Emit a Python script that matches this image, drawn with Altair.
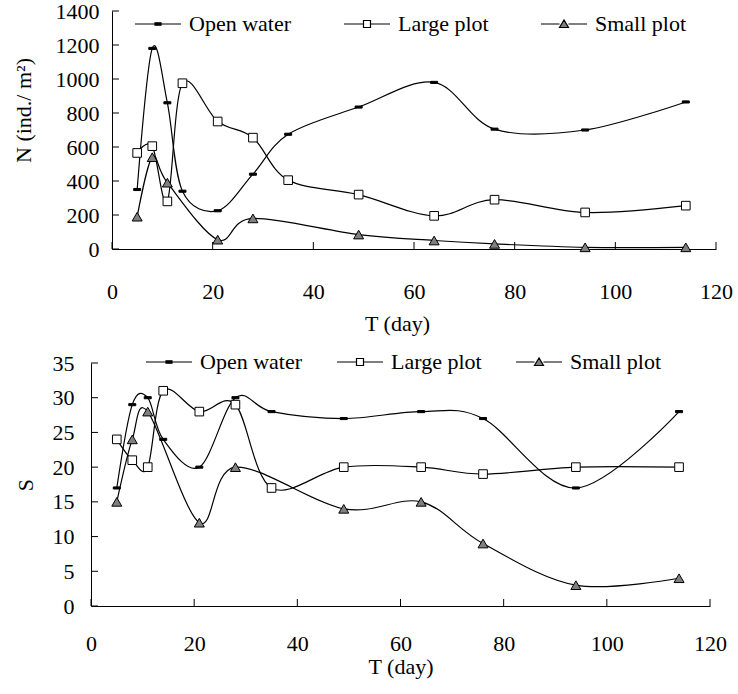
import altair as alt
import pandas as pd

# ---------------- data ----------------
series_names = ["Open water", "Large plot", "Small plot"]

days_full = [5, 8, 11, 14, 21, 28, 35, 49, 64, 76, 94, 114]
days_small = [5, 8, 11, 21, 28, 49, 64, 76, 94, 114]

# Top panel: density N (ind./m2)
n_open = [350, 1180, 860, 340, 225, 440, 675, 835, 980, 705, 700, 865]
n_large = [565, 605, 280, 975, 750, 655, 405, 320, 195, 290, 215, 255]
n_small = [190, 540, 390, 55, 180, 85, 50, 30, 10, 10]

# Bottom panel: species number S
s_open = [17, 29, 30, 24, 20, 30, 28, 27, 28, 27, 17, 28]
s_large = [24, 21, 20, 31, 28, 29, 17, 20, 20, 19, 20, 20]
s_small = [15, 24, 28, 12, 20, 14, 15, 9, 3, 4]

x_ticks = [0, 20, 40, 60, 80, 100, 120]
n_ticks = [0, 200, 400, 600, 800, 1000, 1200, 1400]
s_ticks = [0, 5, 10, 15, 20, 25, 30, 35]


def make_df(open_v, large_v, small_v):
    rows = []
    for d, v in zip(days_full, open_v):
        rows.append({"T": d, "v": v, "series": "Open water"})
    for d, v in zip(days_full, large_v):
        rows.append({"T": d, "v": v, "series": "Large plot"})
    for d, v in zip(days_small, small_v):
        rows.append({"T": d, "v": v, "series": "Small plot"})
    return pd.DataFrame(rows)


FONT = "Liberation Serif"
FS = 22

dash_path = "M-1,-0.3H1V0.3H-1Z"
leg_open = "M-23,0H23M-3,-1.2H3V1.2H-3Z"
leg_large = "M-23,0H-3.5M3.5,0H23M-3.5,-3.5H3.5V3.5H-3.5Z"
leg_small = "M-23,0H-4.5M4.5,0H23M0,-4L-4.5,3.5H4.5Z"
fill_range = ["black", "white", "#808080"]


def panel(df, ymax, yticks, ytitle, W, H, x0, legx, legy, col_pad,
          ylabel_pad, ytitle_pad, xlabel_pad, xtitle_pad, title_y=None, title_x=None):
    xscale = alt.Scale(domain=[0, 120], nice=False, range=[x0, W])
    yscale = alt.Scale(domain=[0, ymax], nice=False)

    yaxis_kw = dict(values=yticks, title=ytitle, grid=False, ticks=False,
                    labelPadding=ylabel_pad, titlePadding=ytitle_pad,
                    domainColor="black", labelFont=FONT, labelFontSize=FS,
                    labelColor="black", titleFont=FONT, titleFontSize=FS,
                    titleFontWeight="normal", titleColor="black",
                    labelOverlap=False, labelBound=False, format="d", offset=-x0)
    if title_y is not None:
        yaxis_kw["titleY"] = title_y
    xaxis_kw = dict(values=x_ticks, title="T (day)", grid=False, ticks=False,
                    labelPadding=xlabel_pad, titlePadding=xtitle_pad,
                    domainColor="black", labelFont=FONT, labelFontSize=FS,
                    labelColor="black", titleFont=FONT, titleFontSize=FS,
                    titleFontWeight="normal", titleColor="black", labelFlush=False,
                    labelOverlap=False)
    if title_x is not None:
        xaxis_kw["titleX"] = title_x
    xax = alt.Axis(**xaxis_kw)
    yax = alt.Axis(**yaxis_kw)

    leg = alt.Legend(
        orient="none", legendX=legx, legendY=legy, direction="horizontal",
        columns=3, title=None, symbolSize=4, symbolOffset=21, labelOffset=20,
        columnPadding=col_pad, symbolStrokeWidth=1.2,
        symbolOpacity=1, labelFont=FONT, labelFontSize=FS, labelColor="black",
        labelLimit=0)

    base = alt.Chart(df)
    lines = base.mark_line(interpolate="cardinal", color="black", strokeWidth=1.2).encode(
        x=alt.X("T:Q", scale=xscale, axis=xax),
        y=alt.Y("v:Q", scale=yscale, axis=yax),
        detail="series:N",
    )
    points = base.mark_point(filled=True, stroke="black", strokeWidth=1, opacity=1).encode(
        x=alt.X("T:Q", scale=xscale, axis=xax),
        y=alt.Y("v:Q", scale=yscale, axis=yax),
        shape=alt.Shape("series:N", scale=alt.Scale(domain=series_names,
                        range=[dash_path, "square", "triangle-up"]), legend=None),
        fill=alt.Fill("series:N", scale=alt.Scale(domain=series_names, range=fill_range),
                      legend=None),
        size=alt.Size("series:N", scale=alt.Scale(domain=series_names,
                      range=[49, 100, 144]), legend=None),
    )
    # legend only: no data rows survive, entries come from the fixed domain
    legend_layer = base.mark_point(filled=True, strokeWidth=1.2, opacity=1).encode(
        x=alt.X("T:Q", scale=xscale, axis=xax),
        y=alt.Y("v:Q", scale=yscale, axis=yax),
        shape=alt.Shape("series:N", scale=alt.Scale(domain=series_names,
                        range=[leg_open, leg_large, leg_small]), legend=leg),
        fill=alt.Fill("series:N", scale=alt.Scale(domain=series_names, range=fill_range),
                      legend=leg),
        stroke=alt.Stroke("series:N", scale=alt.Scale(domain=series_names,
                          range=["black", "black", "black"]), legend=leg),
    ).transform_filter("datum.T < 0")
    ytick_df = pd.DataFrame({"v": yticks})
    xtick_df = pd.DataFrame({"T": x_ticks})
    yt = alt.Chart(ytick_df).mark_rule(color="black", strokeWidth=1).encode(
        y=alt.Y("v:Q", scale=yscale, axis=yax), x=alt.value(x0), x2=alt.value(x0 + 7))
    xt = alt.Chart(xtick_df).mark_rule(color="black", strokeWidth=1).encode(
        x=alt.X("T:Q", scale=xscale, axis=xax), y=alt.value(H), y2=alt.value(H - 7))
    return alt.layer(lines, yt, xt, points, legend_layer).resolve_scale(
        shape="independent", fill="independent", size="independent",
        stroke="independent"
    ).properties(width=W, height=H)


top = panel(make_df(n_open, n_large, n_small), 1400, n_ticks, "N (ind./ m²)",
            625, 238, 21, 35, 2, 43, 13, 20, 32, 11, title_y=99, title_x=306)
bottom = panel(make_df(s_open, s_large, s_small), 35, s_ticks, "S",
               619, 243, 0, 46, -12, 25, 17, 15, 27, 2)

chart = alt.vconcat(top, bottom, spacing=17).resolve_scale(
    x="independent", y="independent", shape="independent", fill="independent",
    size="independent", stroke="independent"
).properties(
    padding={"left": 12, "top": 0, "right": 2, "bottom": 4},
    background="white",
).configure(font=FONT).configure_view(stroke=None)

chart.save("out.html", embed_options={"renderer": "svg", "actions": False})
